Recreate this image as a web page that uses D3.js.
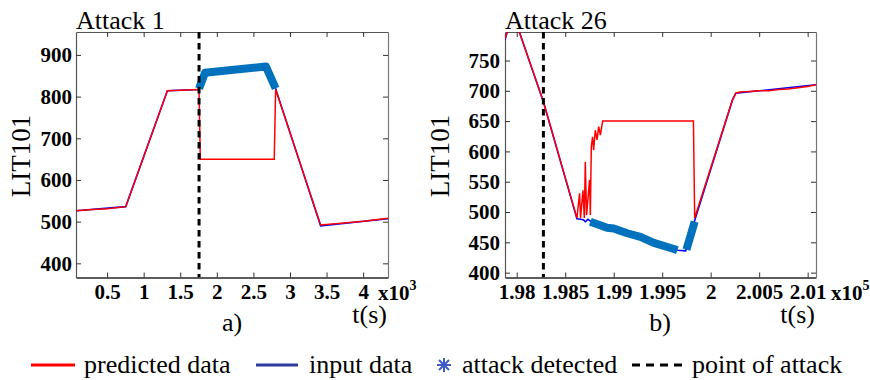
<!DOCTYPE html>
<html>
<head>
<meta charset="utf-8">
<script src="https://cdn.jsdelivr.net/npm/d3@7"></script>
<style>
  html, body { margin: 0; padding: 0; background: #fff; }
  svg { display: block; }
</style>
</head>
<body>
<svg id="chart" width="870" height="380"></svg>
<script>
// ---------------- data ----------------
const titles = ["Attack 1", "Attack 26"];
const panelLetters = ["a)", "b)"];
const yTitle = "LIT101";
const xTitle = "t(s)";

const leftXTicks = [500, 1000, 1500, 2000, 2500, 3000, 3500, 4000];
const leftXTickLabels = ["0.5", "1", "1.5", "2", "2.5", "3", "3.5", "4"];
const leftYTicks = [400, 500, 600, 700, 800, 900];
const leftExponent = "3";

const rightXTicks = [198000, 198500, 199000, 199500, 200000, 200500, 201000];
const rightXTickLabels = ["1.98", "1.985", "1.99", "1.995", "2", "2.005", "2.01"];
const rightYTicks = [400, 450, 500, 550, 600, 650, 700, 750];
const rightExponent = "5";

// left panel (Attack 1): [t (s), LIT101]
const leftPredicted = [[75,526],[300,529],[500,531],[755,536],[1324,814],[1500,815],[1757,817],[1774,650],[2785,650],[2804,817],[3419,492],[3700,496],[4000,501],[4340,508]];
const leftInput = [[75,526],[755,536],[1324,814],[1757,817],[1838,857],[2672,873],[2804,819],[3419,490],[4340,507]];
const leftAttack = [[1757,819],[1838,857],[2200,864],[2672,872],[2804,820]];
const leftAttackPoint = 1757;

// right panel (Attack 26)
const rightPredicted = [[197879,786],[197935,815],[198027,797],[198275,682],[198621,490],[198648,531],[198658,490],[198683,536],[198697,490],[198707,583],[198720,495],[198751,553],[198759,495],[198769,608],[198782,624],[198793,602],[198810,635],[198828,619],[198845,641],[198862,627],[198886,650],[199822,650],[199835,490],[200225,685],[200259,696],[200300,698],[200400,699],[200500,700],[200600,700],[200700,702],[200800,703],[200900,705],[201000,707],[201086,710]];
const rightInput = [[197879,784],[197935,815],[198027,797],[198275,682],[198621,489],[198660,488],[198690,487],[198707,484],[198735,488],[198759,485],[198932,473],[199139,465],[199276,459],[199414,449],[199621,439],[199656,437],[199742,436],[199835,486],[200225,685],[200259,696],[201086,710]];
const rightAttackA = [[198759,484],[198932,474],[199000,473],[199139,465],[199276,459],[199414,449],[199621,439],[199656,437]];
const rightAttackB = [[199750,438],[199835,484]];
const rightAttackPoint = 198275;

const legendLabels = ["predicted data", "input data", "attack detected", "point of attack"];

// ---------------- styles ----------------
const RED = "#ff0000", BLUE = "#0000ff", ATTACK = "#0072bd";
const SERIF = "'Liberation Serif', serif";

const svg = d3.select("#chart");

const panels = [
  { box: [76, 388, 32, 277.5], xDomain: [75, 4340], yDomain: [366, 955],
    xTicks: leftXTicks, xLabels: leftXTickLabels, yTicks: leftYTicks, exp: leftExponent,
    predicted: leftPredicted, input: leftInput, attack: [leftAttack], point: leftAttackPoint,
    title: titles[0], letter: panelLetters[0], yTitleX: 30, expX: 378, letterX: 232 },
  { box: [505, 816, 32, 277.5], xDomain: [197879, 201086], yDomain: [392, 797],
    xTicks: rightXTicks, xLabels: rightXTickLabels, yTicks: rightYTicks, exp: rightExponent,
    predicted: rightPredicted, input: rightInput, attack: [rightAttackA, rightAttackB], point: rightAttackPoint,
    title: titles[1], letter: panelLetters[1], yTitleX: 449, expX: 831, letterX: 660 }
];

panels.forEach((p, i) => {
  const [x0, x1, y0, y1] = p.box;
  const x = d3.scaleLinear().domain(p.xDomain).range([x0, x1]);
  const y = d3.scaleLinear().domain(p.yDomain).range([y1, y0]);
  const g = svg.append("g");

  const clipId = "clip" + i;
  svg.append("clipPath").attr("id", clipId).append("rect")
    .attr("x", x0).attr("y", y0).attr("width", x1 - x0).attr("height", y1 - y0);

  const styleAxis = (sel, color, width) => {
    sel.selectAll("path.domain").attr("stroke", color).attr("stroke-width", width);
    sel.selectAll(".tick line").attr("stroke", "#333").attr("stroke-width", 1);
  };
  const bottom = g.append("g").attr("transform", `translate(0,${y1})`)
    .call(d3.axisBottom(x).tickValues(p.xTicks).tickFormat((d, k) => p.xLabels[k])
      .tickSizeInner(-5).tickSizeOuter(0).tickPadding(7));
  styleAxis(bottom, "#262626", 1.6);
  bottom.selectAll("text").style("font-size", "21px").style("font-weight", "bold");

  const left = g.append("g").attr("transform", `translate(${x0},0)`)
    .call(d3.axisLeft(y).tickValues(p.yTicks).tickFormat(d3.format("d"))
      .tickSizeInner(-5).tickSizeOuter(0).tickPadding(i === 0 ? 4 : 5));
  styleAxis(left, "#555", 1.2);
  left.selectAll("text").style("font-size", "21px").style("font-weight", "bold");

  const top = g.append("g").attr("transform", `translate(0,${y0})`)
    .call(d3.axisTop(x).tickValues(p.xTicks).tickFormat("").tickSizeInner(-5).tickSizeOuter(0));
  styleAxis(top, "#555", 1.2);

  const right = g.append("g").attr("transform", `translate(${x1},0)`)
    .call(d3.axisRight(y).tickValues(p.yTicks).tickFormat("").tickSizeInner(-5).tickSizeOuter(0));
  styleAxis(right, "#777", 1.2);

  // lines
  const line = d3.line().x(d => x(d[0])).y(d => y(d[1]));
  const plot = g.append("g").attr("clip-path", `url(#${clipId})`);
  plot.append("path").datum(p.input).attr("d", line)
    .attr("fill", "none").attr("stroke", BLUE).attr("stroke-width", 1.6);
  plot.append("path").datum(p.predicted).attr("d", line)
    .attr("fill", "none").attr("stroke", RED).attr("stroke-width", 1.5);
  p.attack.forEach(seg => {
    plot.append("path").datum(seg).attr("d", line)
      .attr("fill", "none").attr("stroke", ATTACK).attr("stroke-width", 8)
      .attr("stroke-linecap", "butt").attr("stroke-linejoin", "round");
  });
  plot.append("line")
    .attr("x1", x(p.point)).attr("x2", x(p.point)).attr("y1", y0).attr("y2", y1)
    .attr("stroke", "#000").attr("stroke-width", 3).attr("stroke-dasharray", "6.5,4.5");

  // texts
  g.append("text").attr("x", x0).attr("y", 29).style("font-size", "26px").text(p.title);
  g.append("text").attr("transform", `translate(${p.yTitleX},156) rotate(-90)`)
    .attr("text-anchor", "middle").style("font-size", "27px").text(yTitle);
  const e = g.append("text").attr("x", p.expX).attr("y", 300).style("font-size", "21px")
    .style("font-weight", "bold");
  e.append("tspan").text("x10");
  e.append("tspan").style("font-size", "14px").attr("dy", -10).text(p.exp);
  g.append("text").attr("x", x1 - 1).attr("y", 323).attr("text-anchor", "end")
    .style("font-size", "26px").text(xTitle);
  g.append("text").attr("x", p.letterX).attr("y", 331).attr("text-anchor", "middle")
    .style("font-size", "26px").text(p.letter);
});

// ---------------- legend ----------------
const leg = svg.append("g");
const ly = 365, lb = 373;
leg.append("line").attr("x1", 31).attr("x2", 75).attr("y1", ly).attr("y2", ly)
  .attr("stroke", RED).attr("stroke-width", 3);
leg.append("text").attr("x", 84).attr("y", lb).style("font-size", "26px").text(legendLabels[0]);
leg.append("line").attr("x1", 256).attr("x2", 298).attr("y1", ly).attr("y2", ly)
  .attr("stroke", "#2f3c9e").attr("stroke-width", 3);
leg.append("text").attr("x", 309).attr("y", lb).style("font-size", "26px").text(legendLabels[1]);
const ast = leg.append("g").attr("transform", `translate(444,${ly})`)
  .attr("stroke", "#3f5bc4").attr("stroke-width", 2);
[[0,-7,0,7],[-7,0,7,0],[-5,-5,5,5],[-5,5,5,-5]].forEach(s =>
  ast.append("line").attr("x1", s[0]).attr("y1", s[1]).attr("x2", s[2]).attr("y2", s[3]));
leg.append("text").attr("x", 462).attr("y", lb).style("font-size", "26px").text(legendLabels[2]);
leg.append("line").attr("x1", 632).attr("x2", 685).attr("y1", ly).attr("y2", ly)
  .attr("stroke", "#000").attr("stroke-width", 3).attr("stroke-dasharray", "8,6");
leg.append("text").attr("x", 692).attr("y", lb).style("font-size", "26px").text(legendLabels[3]);

// apply the serif face to every text as an inline style
svg.selectAll("text").style("font-family", SERIF).style("fill", "#000");
</script>
</body>
</html>
